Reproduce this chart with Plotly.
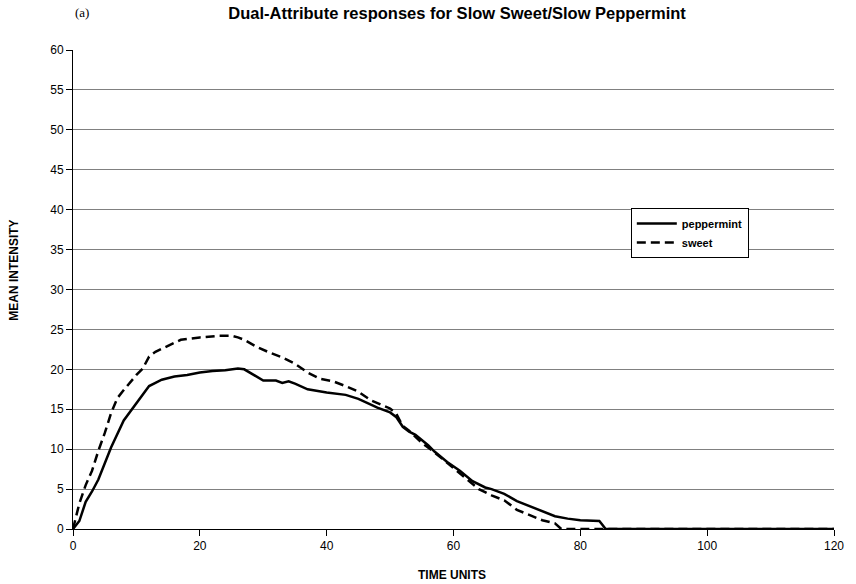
import plotly.graph_objects as go

# Data
time_peppermint = [0, 1, 2, 3, 4, 5, 6, 8, 10, 12, 13, 14, 16, 18, 20, 22, 24, 26, 27, 28, 30,
                   32, 33, 34, 35, 37, 40, 43, 45, 48, 50, 51, 52, 53, 54, 56, 57, 59, 61, 63,
                   65, 66, 68, 70, 72, 74, 76, 78, 80, 83, 84, 120]
peppermint = [0, 1.0, 3.4, 4.7, 6.2, 8.3, 10.2, 13.6, 15.8, 17.9, 18.3, 18.7, 19.1, 19.3, 19.6,
              19.8, 19.9, 20.1, 20.0, 19.5, 18.6, 18.6, 18.3, 18.5, 18.2, 17.5, 17.1, 16.8, 16.3,
              15.2, 14.6, 14.0, 12.8, 12.2, 11.8, 10.5, 9.7, 8.4, 7.3, 6.0, 5.2, 5.0, 4.4, 3.5,
              2.9, 2.2, 1.6, 1.3, 1.1, 1.0, 0, 0]

time_sweet = [0, 1, 2, 3, 4, 5, 6, 7, 8, 9, 10, 11, 12, 13, 15, 17, 20, 23, 25, 26, 27, 29, 31,
              33, 35, 37, 39, 41, 43, 45, 47, 49, 50, 51, 52, 53, 55, 57, 60, 62, 64, 66, 68,
              70, 72, 74, 76, 77, 120]
sweet = [0, 3.2, 5.5, 7.3, 9.8, 12.0, 14.5, 16.4, 17.4, 18.4, 19.3, 20.1, 21.6, 22.2, 23.0,
         23.7, 24.0, 24.2, 24.2, 24.0, 23.7, 22.8, 22.1, 21.5, 20.7, 19.6, 18.8, 18.5, 17.9,
         17.2, 16.1, 15.5, 15.1, 14.4, 12.9, 12.3, 10.8, 9.6, 7.6, 6.3, 5.0, 4.2, 3.6, 2.4,
         1.7, 1.1, 0.7, 0, 0]

x_ticks = [0, 20, 40, 60, 80, 100, 120]
y_ticks = list(range(0, 61, 5))

FONT = "Liberation Sans, Arial, sans-serif"

fig = go.Figure()
fig.add_trace(go.Scatter(x=time_peppermint, y=peppermint, mode="lines", name="<b>peppermint</b>",
                         line=dict(color="black", width=2.5)))
fig.add_trace(go.Scatter(x=time_sweet, y=sweet, mode="lines", name="<b>sweet</b>",
                         line=dict(color="black", width=2.5, dash="9px,5px")))

fig.update_layout(
    width=856, height=584,
    margin=dict(l=73, r=13, t=50, b=55),
    paper_bgcolor="white", plot_bgcolor="white",
    font=dict(family=FONT, color="black", size=11),
    title=dict(text="<b>Dual-Attribute responses for Slow Sweet/Slow Peppermint</b>",
               x=0.534, xanchor="center", y=0.977, yanchor="middle",
               font=dict(family=FONT, size=16.5, color="black")),
    showlegend=True,
    legend=dict(x=0.733, y=0.670, xanchor="left", yanchor="top",
                bgcolor="white", bordercolor="black", borderwidth=1,
                font=dict(family=FONT, size=11, color="black"),
                itemwidth=40, tracegroupgap=0),
    xaxis=dict(range=[0, 120], tickvals=x_ticks, showgrid=False, zeroline=False,
               showline=True, linecolor="black", linewidth=1,
               ticks="outside", ticklen=6, tickcolor="black",
               tickfont=dict(family=FONT, size=12, color="black")),
    yaxis=dict(range=[0, 60], tickvals=y_ticks, showgrid=True, gridcolor="#808080", gridwidth=1,
               zeroline=False, showline=True, linecolor="black", linewidth=1,
               ticks="outside", ticklen=6, tickcolor="black",
               tickfont=dict(family=FONT, size=12, color="black")),
)

fig.add_annotation(text="(a)", xref="paper", yref="paper", x=0.0, y=1.078,
                   xanchor="left", yanchor="middle", showarrow=False,
                   font=dict(family="Liberation Serif, Times New Roman, serif", size=13, color="black"))
fig.add_annotation(text="<b>TIME UNITS</b>", xref="paper", yref="paper", x=0.498, y=-0.097,
                   xanchor="center", yanchor="middle", showarrow=False,
                   font=dict(family=FONT, size=12, color="black"))
fig.add_annotation(text="<b>MEAN INTENSITY</b>", xref="paper", yref="paper", x=-0.077, y=0.54,
                   xanchor="center", yanchor="middle", textangle=-90, showarrow=False,
                   font=dict(family=FONT, size=12, color="black"))

fig.write_html("out.html")
